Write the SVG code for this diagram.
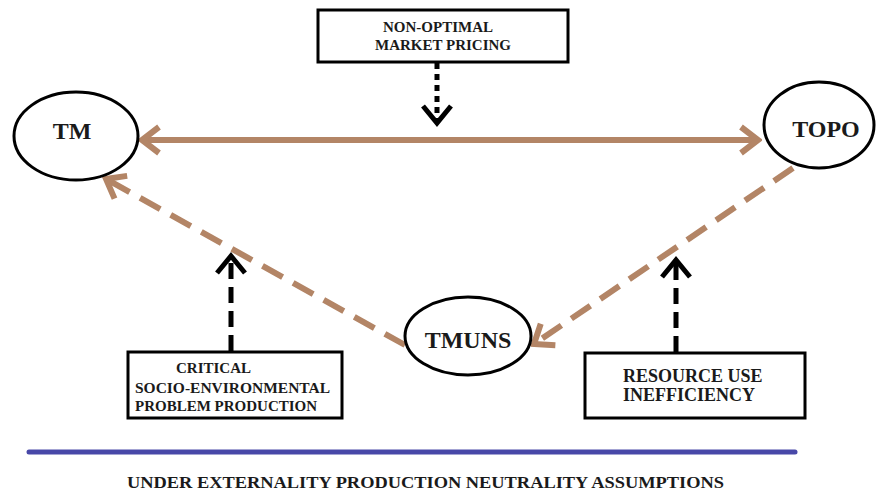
<svg xmlns="http://www.w3.org/2000/svg" width="876" height="493" viewBox="0 0 876 493">
  <style>
    .node { fill: #ffffff; stroke: #000000; stroke-width: 3; }
    .box { fill: #ffffff; stroke: #000000; stroke-width: 3; }
    .label { font-family: "Liberation Serif", "Times New Roman", serif; font-weight: bold; fill: #1a1a1a; }
    .big { font-size: 24px; }
    .flow { fill: none; stroke: #b38566; stroke-width: 6; }
    .flow-dash { stroke-dasharray: 23 12; }
    .cause { fill: none; stroke: #000000; stroke-width: 5; }
  </style>
  <defs>
    <marker id="brownHead" markerUnits="userSpaceOnUse" viewBox="0 0 26 32" markerWidth="26" markerHeight="32" refX="22" refY="16" orient="auto-start-reverse">
      <path d="M5,3 L22,16 L5,29" fill="none" stroke="#b38566" stroke-width="6" stroke-linejoin="miter"/>
    </marker>
    <marker id="blackHead" markerUnits="userSpaceOnUse" viewBox="0 0 26 36" markerWidth="26" markerHeight="36" refX="21" refY="18" orient="auto">
      <path d="M4,4 L21,18 L4,32" fill="none" stroke="#000000" stroke-width="5" stroke-linejoin="miter"/>
    </marker>
  </defs>

  <rect width="876" height="493" fill="#ffffff"/>

  <!-- connectors -->
  <g id="connectors">
    <!-- TM <-> TOPO -->
    <line class="flow" x1="142" y1="140" x2="758" y2="140" marker-start="url(#brownHead)" marker-end="url(#brownHead)"/>
    <!-- TMUNS -> TM -->
    <line class="flow flow-dash" x1="405" y1="345" x2="106" y2="179" marker-end="url(#brownHead)"/>
    <!-- TOPO -> TMUNS -->
    <line class="flow flow-dash" x1="793" y1="168" x2="534" y2="344" marker-end="url(#brownHead)"/>
    <!-- pricing -> horizontal link -->
    <line class="cause" x1="437" y1="63" x2="437" y2="123" stroke-dasharray="6 5" marker-end="url(#blackHead)"/>
    <!-- problem production -> TMUNS/TM link -->
    <line class="cause" x1="231" y1="351" x2="231" y2="256" stroke-dasharray="16 8" marker-end="url(#blackHead)"/>
    <!-- inefficiency -> TOPO/TMUNS link -->
    <line class="cause" x1="676" y1="352" x2="676" y2="260" stroke-dasharray="16 8" marker-end="url(#blackHead)"/>
  </g>

  <!-- nodes -->
  <g id="node-tm">
    <ellipse class="node" cx="76" cy="136" rx="62" ry="44"/>
    <text class="label big" x="72" y="139" text-anchor="middle">TM</text>
  </g>
  <g id="node-topo">
    <ellipse class="node" cx="819" cy="125" rx="55" ry="43"/>
    <text class="label big" x="826" y="137" text-anchor="middle">TOPO</text>
  </g>
  <g id="node-tmuns">
    <ellipse class="node" cx="468" cy="336" rx="63" ry="39"/>
    <text class="label big" x="468" y="348" text-anchor="middle">TMUNS</text>
  </g>

  <g id="box-pricing">
    <rect class="box" x="318" y="10" width="250" height="52"/>
    <text class="label" font-size="15" x="438" y="32" text-anchor="middle">NON-OPTIMAL</text>
    <text class="label" font-size="15" x="443" y="50" text-anchor="middle">MARKET PRICING</text>
  </g>
  <g id="box-problem">
    <rect class="box" x="128" y="352" width="214" height="66"/>
    <text class="label" font-size="15" x="176" y="373">CRITICAL</text>
    <text class="label" font-size="15" x="135" y="393" textLength="195" lengthAdjust="spacingAndGlyphs">SOCIO-ENVIRONMENTAL</text>
    <text class="label" font-size="15" x="135" y="411">PROBLEM PRODUCTION</text>
  </g>
  <g id="box-inefficiency">
    <rect class="box" x="585" y="353" width="220" height="65"/>
    <text class="label" font-size="18" x="623" y="382">RESOURCE USE</text>
    <text class="label" font-size="18" x="623" y="401">INEFFICIENCY</text>
  </g>

  <!-- assumption bar -->
  <g id="assumptions">
    <line x1="29" y1="452" x2="795" y2="452" stroke="#4848a8" stroke-width="5" stroke-linecap="round"/>
    <text class="label" font-size="17" x="127" y="488" textLength="597" lengthAdjust="spacingAndGlyphs">UNDER EXTERNALITY PRODUCTION NEUTRALITY ASSUMPTIONS</text>
  </g>
</svg>
